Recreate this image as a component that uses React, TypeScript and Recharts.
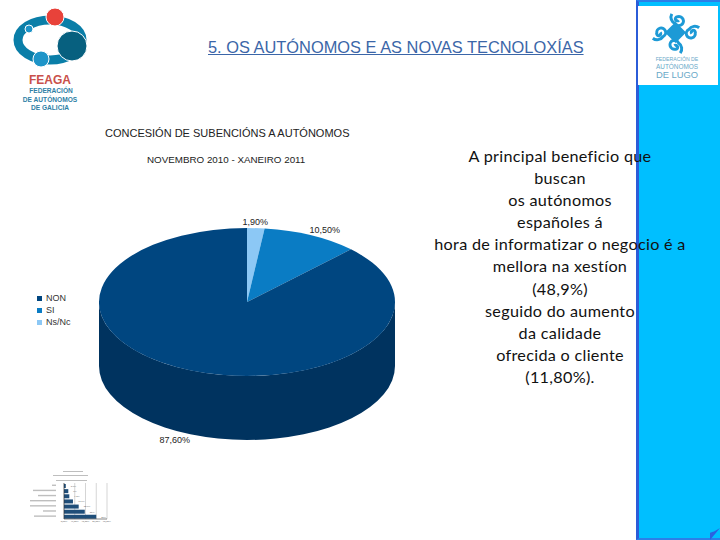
import React from "react";
import { PieChart, Pie, Cell, Legend, BarChart, Bar, XAxis, YAxis, CartesianGrid, LabelList } from "recharts";

const categories = ["Ns/Nc", "SI", "NON"];
const values = [1.9, 10.5, 87.6];
const valueLabels = ["1,90%", "10,50%", "87,60%"];
const topColors = ["#8cc8f5", "#0a7cc4", "#004680"];
const legendOrder = ["NON", "SI", "Ns/Nc"];
const legendColors = ["#004680", "#0a7cc4", "#8cc8f5"];
const textLines = [
  "A principal beneficio que",
  "buscan",
  "os autónomos",
  "españoles á",
  "hora de informatizar o negocio é a",
  "mellora na xestíon",
  "(48,9%)",
  "seguido do aumento",
  "da calidade",
  "ofrecida o cliente",
  "(11,80%).",
];
const miniCats = ["a", "b", "c", "d", "e", "f", "g"];
const miniVals = [2.5, 6, 7.4, 12.5, 20.5, 29, 45];
const miniLabelWidths = [4, 23, 18, 33, 33, 13, 22];
const miniTicks = [0, 15, 30, 45, 60];

const pieData = categories.map((name, i) => ({ name, value: values[i], label: valueLabels[i] }));
const miniData = miniCats.map((name, i) => ({ name, value: miniVals[i], labelWidth: miniLabelWidths[i] }));

const SQUASH = 0.5;
const DEPTH = 64;
const rad = (d: number) => (d * Math.PI) / 180;

function ovalSector(p: any) {
  const { cx, cy, outerRadius: r, startAngle, endAngle, fill } = p;
  const ry = r * SQUASH;
  const x0 = cx + r * Math.cos(rad(startAngle));
  const y0 = cy - ry * Math.sin(rad(startAngle));
  const x1 = cx + r * Math.cos(rad(endAngle));
  const y1 = cy - ry * Math.sin(rad(endAngle));
  const large = Math.abs(endAngle - startAngle) > 180 ? 1 : 0;
  return <path d={`M${cx},${cy}L${x0},${y0}A${r},${ry} 0 ${large} 1 ${x1},${y1}Z`} fill={fill} />;
}

function wallSector(p: any) {
  const { cx, cy, outerRadius: r, fill } = p;
  const ry = r * SQUASH;
  if (p.index !== 2) return <g />;
  return (
    <path
      d={`M${cx - r},${cy}A${r},${ry} 0 0 0 ${cx + r},${cy}L${cx + r},${cy + DEPTH}A${r},${ry} 0 0 1 ${cx - r},${cy + DEPTH}Z`}
      fill={fill}
    />
  );
}

function sliceLabel(p: any) {
  const { cx, cy, outerRadius: r, midAngle, index } = p;
  const a = rad(midAngle);
  const x = cx + (r + 8) * Math.cos(a);
  const y = cy - (r + 8) * SQUASH * Math.sin(a);
  const dx = [-1, 10, -13][index];
  const dy = [1, 1, 69][index];
  return (
    <text x={x + dx} y={y + dy} textAnchor="middle" fontSize={9} fontFamily="Liberation Sans" fill="#222">
      {valueLabels[index]}
    </text>
  );
}

function LegendBox() {
  return (
    <div style={{ fontFamily: "Liberation Sans", fontSize: 9, color: "#333", lineHeight: "12px" }}>
      {legendOrder.map((n, i) => (
        <div key={n} style={{ display: "flex", alignItems: "center" }}>
          <span style={{ width: 5, height: 5, background: legendColors[i], marginRight: 4, display: "inline-block" }} />
          {n}
        </div>
      ))}
    </div>
  );
}

function MiniTick(p: any) {
  const w = miniLabelWidths[p.index] ?? 0;
  return <rect x={p.x - w} y={p.y - 1} width={w} height={1.4} fill="#888" opacity={0.55} />;
}

function FeagaLogo() {
  return (
    <svg width={100} height={115} style={{ position: "absolute", left: 0, top: 0 }}>
      <ellipse cx={50} cy={40} rx={32} ry={20} fill="none" stroke="#0a7ea8" strokeWidth={9} />
      <circle cx={55} cy={17} r={9} fill="#e8423a" stroke="#fff" />
      <circle cx={29} cy={29} r={4} fill="#1d94c8" stroke="#fff" />
      <circle cx={72} cy={46} r={15} fill="#07607f" stroke="#fff" />
      <circle cx={41} cy={59} r={8} fill="#1d94c8" stroke="#fff" />
      <text x={50} y={84} textAnchor="middle" fontFamily="Liberation Sans" fontWeight="bold" fontSize={12} fill="#c9504a">FEAGA</text>
      <g fontFamily="Liberation Sans" fontWeight="bold" fontSize={6.6} fill="#2f7fa6" textAnchor="middle">
        <text x={51} y={93}>FEDERACIÓN</text>
        <text x={50} y={102}>DE AUTÓNOMOS</text>
        <text x={50} y={110}>DE GALICIA</text>
      </g>
    </svg>
  );
}

function Swirl({ x, y, flip }: { x: number; y: number; flip: number }) {
  return (
    <path
      transform={`translate(${x} ${y}) rotate(${flip})`}
      d="M-1,1 A2,2 0 1 1 2,-1 A4.5,4.5 0 1 1 -5,-2 A7,7 0 0 1 4,-7"
      fill="none"
      stroke="#1d9ad6"
      strokeWidth={3}
    />
  );
}

function LugoLogo() {
  return (
    <div style={{ position: "absolute", left: 638, top: 6, width: 80, height: 79, background: "#fff" }}>
      <svg width={80} height={79}>
        <Swirl x={21} y={27} flip={200} />
        <Swirl x={40} y={13} flip={280} />
        <Swirl x={55} y={27} flip={20} />
        <Swirl x={37} y={41} flip={110} />
        <rect x={30} y={19} width={15} height={15} fill="#1d9ad6" transform="rotate(45 37.5 26.5)" />
        <g textAnchor="middle" fontFamily="Liberation Sans" fill="#6aa9c8">
          <text x={39} y={55} fontSize={5.2}>FEDERACIÓN DE</text>
          <text x={39} y={63} fontSize={6.4}>AUTÓNOMOS</text>
          <text x={39} y={72} fontSize={9.4}>DE LUGO</text>
        </g>
      </svg>
    </div>
  );
}

export default function App() {
  return (
    <div style={{ position: "absolute", left: 0, top: 0, width: 720, height: 540, background: "#fff", overflow: "hidden" }}>
      <FeagaLogo />
      <div style={{ position: "absolute", left: 636, top: 0, width: 84, height: 540, background: "#00bfff", borderLeft: "3px solid #2b5cd8", borderTop: "2px solid #2b7fe8", borderBottom: "2px solid #2b7fe8", boxSizing: "border-box" }} />
      <div style={{ position: "absolute", left: 710, top: 528, width: 10, height: 12, background: "#2b62e0", clipPath: "polygon(100% 0, 100% 0, 0 100%, 0 40%, 40% 30%, 100% 0)" }} />
      <LugoLogo />
      <div style={{ position: "absolute", left: 208, top: 38, fontFamily: "Liberation Sans", fontSize: 16.4, color: "#3b66a8", textDecoration: "underline", whiteSpace: "nowrap" }}>
        5. OS AUTÓNOMOS E AS NOVAS TECNOLOXÍAS
      </div>
      <div style={{ position: "absolute", left: 105, top: 127, fontFamily: "Liberation Sans", fontSize: 11, color: "#222", whiteSpace: "nowrap" }}>
        CONCESIÓN DE SUBENCIÓNS A AUTÓNOMOS
      </div>
      <div style={{ position: "absolute", left: 147, top: 154, fontFamily: "Liberation Sans", fontSize: 9.8, color: "#222", whiteSpace: "nowrap" }}>
        NOVEMBRO 2010 - XANEIRO 2011
      </div>
      <div style={{ position: "absolute", left: 0, top: 0 }}>
        <PieChart width={636} height={470} margin={{ top: 0, right: 0, bottom: 0, left: 0 }}>
          <Pie data={pieData} dataKey="value" cx={247} cy={302} outerRadius={148} startAngle={90} endAngle={-270} stroke="none" isAnimationActive={false} shape={wallSector} fill="#00335f" legendType="none" />
          <Pie data={pieData} dataKey="value" nameKey="name" cx={247} cy={302} outerRadius={148} startAngle={90} endAngle={-270} stroke="none" isAnimationActive={false} shape={ovalSector} label={sliceLabel} labelLine={false}>
            {pieData.map((d, i) => (
              <Cell key={d.name} fill={topColors[i]} />
            ))}
          </Pie>
          <Legend content={<LegendBox />} layout="vertical" align="center" verticalAlign="middle" wrapperStyle={{ left: 37, top: 292, width: 60 }} />
        </PieChart>
      </div>
      <div style={{ position: "absolute", left: 63, top: 471, width: 20, height: 1.4, background: "#888", opacity: 0.55 }} />
      <div style={{ position: "absolute", left: 53, top: 475, width: 35, height: 1.4, background: "#888", opacity: 0.55 }} />
      <div style={{ position: "absolute", left: 56, top: 480, width: 31, height: 1.4, background: "#888", opacity: 0.55 }} />
      <div style={{ position: "absolute", left: 30, top: 465 }}>
        <BarChart width={84} height={64} data={miniData} layout="vertical" margin={{ top: 18, right: 7, bottom: 6, left: 0 }}>
          <CartesianGrid horizontal={false} stroke="#aaa" strokeWidth={0.5} />
          <XAxis type="number" domain={[0, 60]} ticks={miniTicks} tick={{ fontSize: 2.6, fill: "#555" }} tickLine={false} tickSize={0} tickMargin={1} axisLine={{ stroke: "#333", strokeWidth: 0.6 }} height={4} tickFormatter={(v: number) => `${v},00%`} interval={0} />
          <YAxis type="category" dataKey="name" width={34} tick={<MiniTick />} tickLine={false} axisLine={{ stroke: "#333", strokeWidth: 0.6 }} interval={0} />
          <Bar dataKey="value" fill="#1f4e79" barSize={4} isAnimationActive={false}>
            <LabelList dataKey="value" position="right" fontSize={2.6} fill="#555" formatter={(v: number) => `${v}%`} />
          </Bar>
        </BarChart>
      </div>
      <div style={{ position: "absolute", left: 432, top: 145, width: 256, textAlign: "center", fontFamily: "Lato", fontSize: 16.2, letterSpacing: 0.3, lineHeight: "22.1px", color: "#111" }}>
        {textLines.map((l) => (
          <div key={l} style={{ whiteSpace: "nowrap", display: "flex", justifyContent: "center" }}>{l}</div>
        ))}
      </div>
    </div>
  );
}
